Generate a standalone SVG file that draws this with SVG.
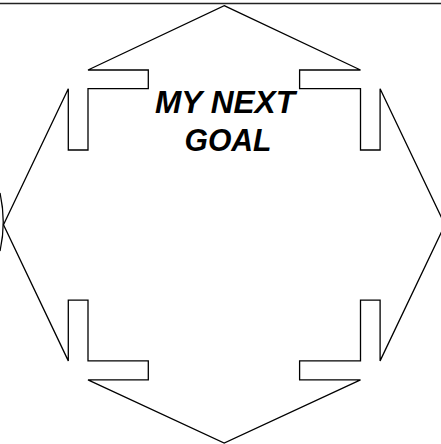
<svg xmlns="http://www.w3.org/2000/svg" width="441" height="444" viewBox="0 0 441 444">
  <style>
    .outline { fill: none; stroke: #000; stroke-width: 1.3; stroke-linejoin: miter; }
    .label { font-family: "Liberation Sans", Arial, sans-serif; font-weight: bold; font-style: italic; font-size: 30.5px; fill: #000; text-anchor: middle; }
  </style>
  <rect x="0" y="0" width="441" height="444" fill="#fff"/>
  <g id="connectors">
    <line x1="0" y1="3.5" x2="441" y2="3.5" stroke="#222" stroke-width="1.6"/>
  </g>
  <g id="goal-shape">
    <path class="outline" d="M224.2,5.7 L360.5,70 L299.6,70 L299.6,88.7 L360.5,88.7 L360.5,150 L380.1,150 L380.1,88.7 L444.9,224.8 L380.1,360.9 L380.1,300.2 L360.5,300.2 L360.5,360.9 L299.6,360.9 L299.6,379.8 L360.5,379.8 L224.2,443 L88,379.8 L148.3,379.8 L148.3,360.9 L88,360.9 L88,300.2 L68.3,300.2 L68.3,360.9 L3.5,224.8 L68.3,88.7 L68.3,150 L88,150 L88,88.7 L148.3,88.7 L148.3,70 L88,70 Z"/>
  </g>
  <g id="left-arc">
    <path class="outline" d="M0,193 Q6.5,222 0,251"/>
  </g>
  <g id="label">
    <text class="label" x="225" y="112.5" textLength="140" lengthAdjust="spacingAndGlyphs">MY NEXT</text>
    <text class="label" x="228" y="150.5" textLength="87" lengthAdjust="spacingAndGlyphs">GOAL</text>
  </g>
</svg>
